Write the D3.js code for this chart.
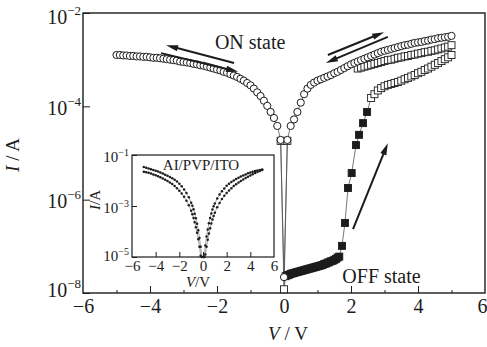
<!DOCTYPE html>
<html><head><meta charset="utf-8">
<script src="https://cdn.jsdelivr.net/npm/d3@7"></script>
<style>
body{margin:0;background:#fff}
svg{display:block}
text{font-family:"Liberation Serif","Times New Roman",serif;fill:#1c1c1c}
</style>
</head><body>
<svg id="c" width="487" height="347"></svg>
<script>
// ---------- DATA (current stored as log10(I / A)) ----------
const xLabelTicks = [-6,-4,-2,0,2,4,6];
const xMajorTicks = [-4,-2,0,2,4];
const xMinorTicks = [-5,-3,-1,1,3,5];
const yTickExp = [-8,-6,-4,-2];

// ON state, open circles, negative sweep
const onNegV = [-5.0,-4.9,-4.8,-4.7,-4.6,-4.5,-4.4,-4.3,-4.2,-4.1,-4.0,-3.9,-3.8,-3.7,-3.6,-3.5,-3.4,-3.3,-3.2,-3.1,-3.0,-2.9,-2.8,-2.7,-2.6,-2.5,-2.4,-2.3,-2.2,-2.1,-2.0,-1.9,-1.8,-1.7,-1.6,-1.5,-1.4,-1.3,-1.2,-1.1,-1.0,-0.9,-0.8,-0.7,-0.6,-0.5,-0.4,-0.3,-0.2,-0.1];
const onNegLog = [-2.90,-2.90,-2.91,-2.91,-2.92,-2.92,-2.93,-2.93,-2.94,-2.94,
  -2.95,-2.96,-2.96,-2.97,-2.98,-2.99,-3.00,-3.01,-3.02,-3.04,
  -3.05,-3.06,-3.07,-3.09,-3.10,-3.12,-3.13,-3.15,-3.17,-3.19,
  -3.21,-3.23,-3.26,-3.28,-3.31,-3.34,-3.37,-3.41,-3.45,-3.50,
  -3.55,-3.62,-3.70,-3.78,-3.88,-3.99,-4.12,-4.25,-4.42,-4.72];
// ON state, open circles, positive sweep
const onPosV = [0.1,0.2,0.3,0.4,0.5,0.6,0.7,0.8,0.9,1.0,1.1,1.2,1.3,1.4,1.5,1.6,1.7,1.8,1.9,2.0,2.1,2.2,2.3,2.4,2.5,2.6,2.7,2.8,2.9,3.0,3.1,3.2,3.3,3.4,3.5,3.6,3.7,3.8,3.9,4.0,4.1,4.2,4.3,4.4,4.5,4.6,4.7,4.8,4.9,5.0];
const onPosLog = [-4.72,-4.42,-4.28,-4.12,-3.92,-3.74,-3.62,-3.54,-3.49,-3.45,
  -3.42,-3.39,-3.36,-3.33,-3.29,-3.26,-3.22,-3.18,-3.14,-3.10,
  -3.07,-3.04,-3.01,-2.98,-2.95,-2.92,-2.89,-2.86,-2.83,-2.81,
  -2.79,-2.77,-2.75,-2.73,-2.71,-2.69,-2.68,-2.66,-2.64,-2.63,
  -2.62,-2.60,-2.59,-2.57,-2.56,-2.54,-2.53,-2.52,-2.51,-2.49];
const zeroCircleLog = -7.66;

// first sweep (OFF -> ON): filled squares then open squares
const filledV = [0.05,0.10,0.15,0.20,0.25,0.30,0.35,0.40,0.45,0.50,0.55,0.60,0.65,0.70,0.75,0.80,0.85,0.90,0.95,1.00,1.05,1.10,1.15,1.20,1.25,1.30,1.35,1.40,1.45,1.50,1.55,1.60,1.65,
  1.73,1.82,1.91,2.02,2.15,2.24,2.36,2.48];
const filledLog = [-7.64,-7.62,-7.61,-7.59,-7.58,-7.57,-7.56,-7.55,-7.54,-7.53,-7.52,-7.51,-7.50,-7.49,-7.48,-7.47,-7.46,-7.45,-7.44,-7.43,-7.42,-7.41,-7.40,-7.38,-7.37,-7.35,-7.34,-7.32,-7.31,-7.29,-7.27,-7.24,-7.22,
  -6.99,-6.50,-5.75,-5.43,-4.83,-4.61,-4.36,-4.12];
const sqFwdV = [2.6,2.7,2.8,2.9,3.0,3.1,3.2,3.3,3.4,3.5,3.6,3.7,3.8,3.9,4.0,4.1,4.2,4.3,4.4,4.5,4.6,4.7,4.8,4.9,5.0];
const sqFwdLog = [-3.82,-3.74,-3.66,-3.61,-3.57,-3.54,-3.52,-3.50,-3.48,-3.45,-3.42,-3.39,-3.36,-3.33,-3.29,-3.26,-3.22,-3.19,-3.15,-3.11,-3.07,-3.03,-2.99,-2.95,-2.90];
// return sweep, open squares
const sqBackV = [2.2,2.3,2.4,2.5,2.6,2.7,2.8,2.9,3.0,3.1,3.2,3.3,3.4,3.5,3.6,3.7,3.8,3.9,4.0,4.1,4.2,4.3,4.4,4.5,4.6,4.7,4.8,4.9,5.0];
const sqBackLog = [-3.19,-3.17,-3.15,-3.13,-3.11,-3.09,-3.07,-3.05,-3.03,-3.01,-3.00,-2.98,-2.96,-2.95,-2.93,-2.92,-2.90,-2.89,-2.87,-2.86,-2.84,-2.83,-2.81,-2.80,-2.78,-2.76,-2.74,-2.72,-2.69];
const sqNearZeroV = [-0.1,0.1];
const sqNearZeroLog = [-4.74,-4.74];
const zeroSquareLog = -7.92;

// inset Al/PVP/ITO, |V| grid and four branches
const insetAbsV = [0.1,0.2,0.3,0.4,0.5,0.6,0.7,0.8,0.9,1.0,1.2,1.4,1.6,1.8,2.0,2.2,2.4,2.6,2.8,3.0,3.2,3.4,3.6,3.8,4.0,4.2,4.4,4.6,4.8,5.0];
const insetNegOuterLog = [-5.0,-4.6,-4.25,-3.95,-3.7,-3.48,-3.3,-3.13,-2.99,-2.87,-2.66,-2.49,-2.35,-2.23,-2.13,-2.04,-1.97,-1.91,-1.86,-1.81,-1.77,-1.73,-1.69,-1.65,-1.62,-1.59,-1.56,-1.53,-1.50,-1.47];
const insetNegInnerLog = [-5.0,-4.95,-4.6,-4.3,-4.05,-3.83,-3.64,-3.47,-3.32,-3.19,-2.97,-2.79,-2.64,-2.51,-2.40,-2.30,-2.22,-2.14,-2.08,-2.02,-1.97,-1.92,-1.87,-1.83,-1.79,-1.76,-1.73,-1.70,-1.68,-1.66];
const insetPosOuterLog = [-5.0,-4.55,-4.2,-3.92,-3.68,-3.47,-3.29,-3.14,-3.01,-2.9,-2.71,-2.55,-2.42,-2.31,-2.21,-2.13,-2.06,-2.0,-1.94,-1.89,-1.84,-1.8,-1.76,-1.72,-1.69,-1.66,-1.63,-1.61,-1.59,-1.57];
const insetPosInnerLog = [-5.0,-4.9,-4.6,-4.32,-4.08,-3.87,-3.69,-3.53,-3.39,-3.26,-3.05,-2.88,-2.73,-2.6,-2.49,-2.39,-2.3,-2.22,-2.15,-2.08,-2.02,-1.96,-1.9,-1.85,-1.8,-1.75,-1.71,-1.67,-1.63,-1.59];
const insetXLabelTicks = [-6,-4,-2,0,2,4,6];
const insetXMajorTicks = [-4,-2,0,2,4];
const insetYTickExp = [-5,-3,-1];

// annotations (data coordinates: [V, log10 I])
const arrows = [
  [[-1.49,-3.07],[-3.52,-2.69]],
  [[-3.67,-2.86],[-1.37,-3.26]],
  [[1.31,-2.90],[2.99,-2.41]],
  [[3.10,-2.51],[1.25,-3.07]],
  [[2.06,-6.63],[3.10,-4.79]]
];
const notes = [
  {text:"ON state", at:[-1.01,-2.77]},
  {text:"OFF state", at:[2.91,-7.79]}
];

// ---------- CHART ----------
const svg = d3.select('#c');
const P = v => Math.pow(10, v);
const x = d3.scaleLinear().domain([-6,6]).range([83,485]);
const y = d3.scaleLog().domain([1e-8,1e-2]).range([293,13]);
const ink = '#1c1c1c';
const minus = d3.format('d');

function pts(V, L){ return V.map((v,i)=>[v, L[i]]); }

// axes
const gx = svg.append('g').attr('transform',`translate(0,${y.range()[0]})`)
  .call(d3.axisBottom(x).tickValues(xLabelTicks).tickSize(-7).tickPadding(6).tickFormat(minus));
gx.select('.domain').remove();
gx.attr('font-family','Liberation Serif, serif').attr('font-size',20).attr('color',ink);
gx.selectAll('.tick').filter(d=>d===-6||d===6).select('line').remove();
gx.selectAll('.tick').filter(d=>d===6).select('text').attr('text-anchor','end').attr('x',2);
gx.selectAll('text').attr('fill',ink);

const gxm = svg.append('g').attr('transform',`translate(0,${y.range()[0]})`)
  .call(d3.axisBottom(x).tickValues(xMinorTicks).tickSize(-3).tickFormat(''));
gxm.select('.domain').remove();
gxm.attr('color',ink);

const gy = svg.append('g').attr('transform',`translate(${x.range()[0]},0)`)
  .call(d3.axisLeft(y).tickValues(yTickExp.map(P)).tickSize(-7).tickFormat(''));
gy.select('.domain').remove();
gy.attr('color',ink);
gy.selectAll('.tick').each(function(d){
  const e = Math.round(Math.log10(d));
  const g = d3.select(this);
  const dy = e===-8 ? 3 : (e===-2 ? 10 : 8);
  const t = g.append('text').attr('x',-2).attr('y',dy).attr('text-anchor','end')
    .attr('font-size',20).attr('fill',ink).attr('font-family','Liberation Serif, serif');
  t.append('tspan').text('10');
  t.append('tspan').attr('dy',-9).attr('font-size',13).text(minus(e));
});

// frame
svg.append('rect').attr('x',x.range()[0]).attr('y',y.range()[1])
  .attr('width',x.range()[1]-x.range()[0]).attr('height',y.range()[0]-y.range()[1])
  .attr('fill','none').attr('stroke',ink).attr('stroke-width',1.4);

// axis titles
const yt = svg.append('text').attr('transform','translate(19,155) rotate(-90)')
  .attr('text-anchor','middle').attr('font-size',19);
yt.append('tspan').attr('font-style','italic').text('I');
yt.append('tspan').text(' / A');
const xt = svg.append('text').attr('x',288).attr('y',340).attr('text-anchor','middle').attr('font-size',19);
xt.append('tspan').attr('font-style','italic').text('V');
xt.append('tspan').text(' / V');

// connecting lines
const line = d3.line().x(d=>x(d[0])).y(d=>y(P(d[1])));
const gl = svg.append('g').attr('fill','none').attr('stroke','#555').attr('stroke-width',0.8);
const onPath = pts(onNegV,onNegLog).concat([[0,zeroCircleLog]]).concat(pts(onPosV,onPosLog));
gl.append('path').attr('d', line(onPath));
const sweep1 = [[0,zeroSquareLog]].concat(pts(filledV,filledLog)).concat(pts(sqFwdV,sqFwdLog));
gl.append('path').attr('d', line(sweep1));
gl.append('path').attr('d', line(pts(sqBackV,sqBackLog)));
gl.append('path').attr('d', line([[sqNearZeroV[0],sqNearZeroLog[0]],[0,zeroSquareLog],[sqNearZeroV[1],sqNearZeroLog[1]]]));

// markers
const S = 7;
function squares(data, filled){
  svg.append('g').selectAll('rect').data(data).join('rect')
    .attr('x',d=>x(d[0])-S/2).attr('y',d=>y(P(d[1]))-S/2)
    .attr('width',S).attr('height',S)
    .attr('fill', filled ? ink : '#fff').attr('stroke',ink).attr('stroke-width',0.9);
}
squares(pts(sqFwdV,sqFwdLog), false);
squares(pts(sqBackV,sqBackLog), false);
squares(pts(sqNearZeroV,sqNearZeroLog).concat([[0,zeroSquareLog]]), false);
squares(pts(filledV,filledLog), true);
svg.append('g').selectAll('circle').data(onPath).join('circle')
  .attr('cx',d=>x(d[0])).attr('cy',d=>y(P(d[1]))).attr('r',3.6)
  .attr('fill','#fff').attr('stroke',ink).attr('stroke-width',1);

// arrows
function arrow(t,h){
  const x1=x(t[0]), y1=y(P(t[1])), x2=x(h[0]), y2=y(P(h[1]));
  const dx=x2-x1, dy=y2-y1, L=Math.hypot(dx,dy), ux=dx/L, uy=dy/L;
  const hl=12, hw=3.2;
  svg.append('line').attr('x1',x1).attr('y1',y1).attr('x2',x2-ux*hl*0.7).attr('y2',y2-uy*hl*0.7)
    .attr('stroke',ink).attr('stroke-width',2);
  const bx=x2-ux*hl, by=y2-uy*hl;
  svg.append('path').attr('d',`M${x2},${y2}L${bx-uy*hw},${by+ux*hw}L${bx+uy*hw},${by-ux*hw}Z`).attr('fill',ink);
}
arrows.forEach(a=>arrow(a[0],a[1]));

notes.forEach(n=>{
  svg.append('text').attr('x',x(n.at[0])).attr('y',y(P(n.at[1]))).attr('text-anchor','middle')
    .attr('font-size',20).text(n.text);
});

// ---------- INSET ----------
const xi = d3.scaleLinear().domain([-6,6]).range([132,274]);
const yi = d3.scaleLog().domain([1e-5,1e-1]).range([257,155]);
const gi = svg.append('g');
gi.append('rect').attr('x',xi.range()[0]).attr('y',yi.range()[1])
  .attr('width',xi.range()[1]-xi.range()[0]).attr('height',yi.range()[0]-yi.range()[1]).attr('fill','#fff');
const linei = d3.line().x(d=>xi(d[0])).y(d=>yi(P(d[1])));
const branches = [
  pts(insetAbsV.map(v=>-v), insetNegOuterLog),
  pts(insetAbsV.map(v=>-v), insetNegInnerLog),
  pts(insetAbsV, insetPosOuterLog),
  pts(insetAbsV, insetPosInnerLog)
];
branches.forEach(b=>{
  gi.append('path').attr('d',linei(b)).attr('fill','none').attr('stroke','#666').attr('stroke-width',0.6);
  gi.append('g').selectAll('circle').data(b).join('circle')
    .attr('cx',d=>xi(d[0])).attr('cy',d=>yi(P(d[1]))).attr('r',1.25).attr('fill',ink);
});
const gix = gi.append('g').attr('transform',`translate(0,${yi.range()[0]})`)
  .call(d3.axisBottom(xi).tickValues(insetXLabelTicks).tickSize(-5).tickPadding(3).tickFormat(minus));
gix.select('.domain').remove();
gix.attr('font-family','Liberation Serif, serif').attr('font-size',15).attr('color',ink);
gix.selectAll('.tick').filter(d=>d===-6||d===6).select('line').remove();
gix.selectAll('text').attr('fill',ink);
const giy = gi.append('g').attr('transform',`translate(${xi.range()[0]},0)`)
  .call(d3.axisLeft(yi).tickValues(insetYTickExp.map(P)).tickSize(-5).tickFormat(''));
giy.select('.domain').remove();
giy.attr('color',ink);
giy.selectAll('.tick').each(function(d){
  const e = Math.round(Math.log10(d));
  const g = d3.select(this);
  const dy = e===-5 ? 3 : 6;
  const t = g.append('text').attr('x',-3).attr('y',dy).attr('text-anchor','end')
    .attr('font-size',15).attr('fill',ink).attr('font-family','Liberation Serif, serif');
  t.append('tspan').text('10');
  t.append('tspan').attr('dy',-6).attr('font-size',10).text(minus(e));
});
gi.append('rect').attr('x',xi.range()[0]).attr('y',yi.range()[1])
  .attr('width',xi.range()[1]-xi.range()[0]).attr('height',yi.range()[0]-yi.range()[1])
  .attr('fill','none').attr('stroke',ink).attr('stroke-width',1.2);
gi.append('text').attr('x',201).attr('y',170).attr('text-anchor','middle').attr('font-size',15).text('AI/PVP/ITO');
const ixt = gi.append('text').attr('x',198).attr('y',287).attr('text-anchor','middle').attr('font-size',15);
ixt.append('tspan').attr('font-style','italic').text('V');
ixt.append('tspan').text('/V');
const iyt = gi.append('text').attr('transform','translate(100,200) rotate(-90)').attr('text-anchor','middle').attr('font-size',15);
iyt.append('tspan').attr('font-style','italic').text('I');
iyt.append('tspan').text('/A');
</script>
</body></html>
